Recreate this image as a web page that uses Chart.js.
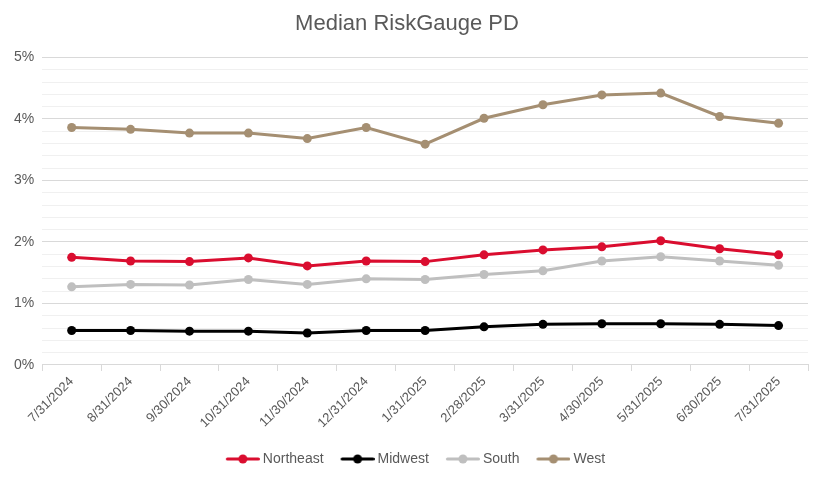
<!DOCTYPE html>
<html>
<head>
<meta charset="utf-8">
<script src="https://cdn.jsdelivr.net/npm/chart.js@4"></script>
<style>
html,body{margin:0;padding:0;background:#fff;}
#wrap{width:825px;height:480px;}
</style>
</head>
<body>
<div id="wrap"><canvas id="c" width="825" height="480"></canvas></div>
<script>
const categories = ["7/31/2024","8/31/2024","9/30/2024","10/31/2024","11/30/2024","12/31/2024","1/31/2025","2/28/2025","3/31/2025","4/30/2025","5/31/2025","6/30/2025","7/31/2025"];
const northeast = [1.75,1.69,1.68,1.74,1.61,1.69,1.68,1.79,1.87,1.92,2.02,1.89,1.79];
const midwest   = [0.56,0.56,0.55,0.55,0.52,0.56,0.56,0.62,0.66,0.67,0.67,0.66,0.64];
const south     = [1.27,1.31,1.30,1.39,1.31,1.40,1.39,1.47,1.53,1.69,1.76,1.69,1.62];
const west      = [3.86,3.83,3.77,3.77,3.68,3.86,3.59,4.01,4.23,4.39,4.42,4.04,3.93];
const seriesNames = ["Northeast","Midwest","South","West"];
const yTickLabels = ["0%","1%","2%","3%","4%","5%"];

const colors = ["#DA0D2F","#000000","#BFBFBF","#A58F72"];
const seriesData = [northeast, midwest, south, west];

// legend icon: line with dot; canvas is asymmetric so the visible icon sits at x+3..x+37 of the legend box
function legendIcon(color){
  const cv = document.createElement('canvas');
  cv.width = 41; cv.height = 10;
  const g = cv.getContext('2d');
  g.strokeStyle = color; g.lineWidth = 3; g.lineCap = 'round';
  g.beginPath(); g.moveTo(8.5,5); g.lineTo(39.5,5); g.stroke();
  g.fillStyle = color;
  g.beginPath(); g.arc(24,5,4.5,0,Math.PI*2); g.fill();
  return cv;
}
const icons = colors.map(legendIcon);

const datasets = seriesNames.map((n,i)=>({
  label: n,
  data: seriesData[i],
  borderColor: colors[i],
  backgroundColor: colors[i],
  borderWidth: 3,
  pointRadius: 4.5,
  pointHoverRadius: 4.5,
  pointBorderWidth: 0,
  tension: 0,
  fill: false
}));

const legendShift = {
  id: 'legendShift',
  afterLayout(chart) {
    if (chart.legend) { chart.legend.left += 7; chart.legend.right += 7; }
  }
};

new Chart(document.getElementById('c'), {
  type: 'line',
  data: { labels: categories, datasets },
  plugins: [legendShift],
  options: {
    responsive: false,
    devicePixelRatio: 1,
    animation: false,
    layout: { padding: { left: 6, right: 17, top: 4, bottom: 4 } },
    plugins: {
      tooltip: { enabled: false },
      title: {
        display: true,
        text: 'Median RiskGauge PD',
        color: '#595959',
        font: { family: 'Liberation Sans, Arial, sans-serif', size: 22, weight: 'normal' },
        padding: { top: 7, bottom: 20 }
      },
      legend: {
        position: 'bottom',
        labels: {
          color: '#595959',
          font: { family: 'Liberation Sans, Arial, sans-serif', size: 14 },
          usePointStyle: true,
          pointStyleWidth: 33,
          boxHeight: 10,
          padding: 14,
          generateLabels: (chart) => chart.data.datasets.map((d,i)=>({
            text: d.label,
            fillStyle: d.borderColor,
            strokeStyle: d.borderColor,
            fontColor: '#595959',
            pointStyle: icons[i],
            lineWidth: 0,
            hidden: false,
            datasetIndex: i
          }))
        }
      }
    },
    scales: {
      x: {
        offset: true,
        grid: { offset: true, drawOnChartArea: false, drawTicks: true, tickLength: 6, color: '#D9D9D9' },
        border: { color: '#D9D9D9' },
        ticks: {
          color: '#595959',
          font: { family: 'Liberation Sans, Arial, sans-serif', size: 13 },
          maxRotation: 45, minRotation: 45, autoSkip: false, padding: 3
        },
        afterFit: (scale) => { scale.height += 4; }
      },
      y: {
        min: 0, max: 5,
        grid: {
          color: (ctx) => {
            const v = ctx.tick ? ctx.tick.value : 0;
            return Math.abs(v - Math.round(v)) < 1e-6 ? '#D9D9D9' : '#F0F0F0';
          },
          lineWidth: 1,
          drawTicks: false
        },
        border: { display: false },
        ticks: {
          stepSize: 0.2,
          autoSkip: false,
          color: '#595959',
          padding: 8,
          font: { family: 'Liberation Sans, Arial, sans-serif', size: 14 },
          callback: (v) => {
            const r = Math.round(v);
            return Math.abs(v - r) < 1e-6 ? yTickLabels[r] : '';
          }
        }
      }
    }
  }
});
</script>
</body>
</html>
